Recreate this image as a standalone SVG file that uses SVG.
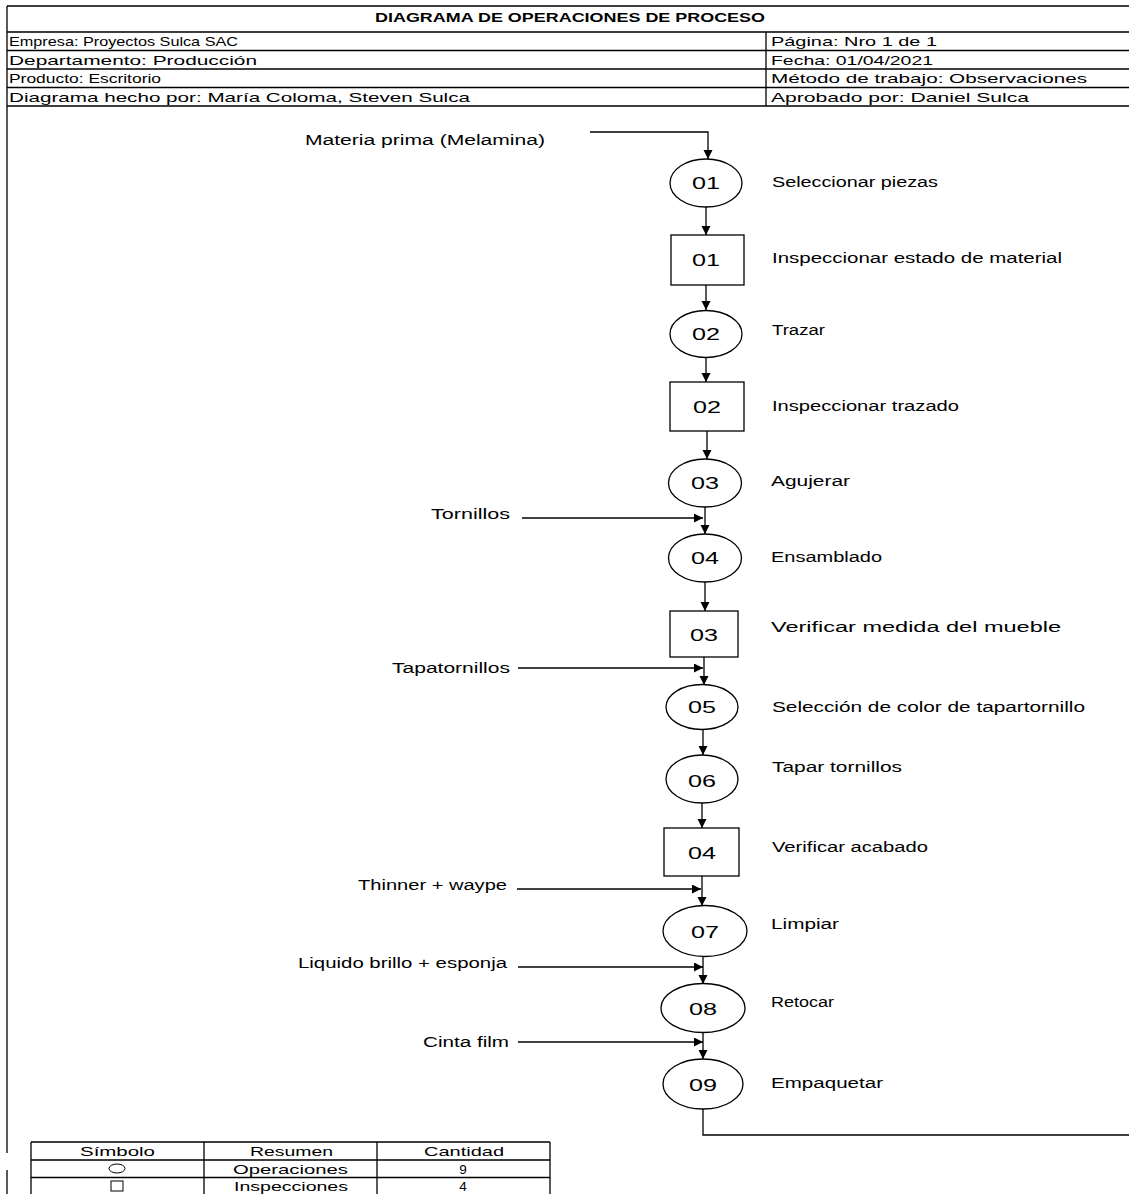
<svg xmlns="http://www.w3.org/2000/svg" width="1129" height="1194" viewBox="0 0 1129 1194">
<style>
  .hdr { font-family: "Liberation Sans", Arial, sans-serif; font-size: 13.5px; fill: #000; }
  .ttl { font-family: "Liberation Sans", Arial, sans-serif; font-size: 13px; font-weight: bold; fill: #000; }
  .lbl { font-family: "Liberation Sans", Arial, sans-serif; font-size: 14px; fill: #000; }
  .num { font-family: "Liberation Sans", Arial, sans-serif; font-size: 17px; fill: #000; }
  .tbl { font-family: "Liberation Sans", Arial, sans-serif; font-size: 13.5px; fill: #000; }
  .ln { stroke: #000; stroke-width: 1.3; fill: none; }
  .shape { stroke: #000; stroke-width: 1.3; fill: #fff; }
  .con { stroke: #000; stroke-width: 1.3; fill: none; }
</style>
<defs>
  <marker id="arr" markerUnits="userSpaceOnUse" markerWidth="11" markerHeight="11" refX="9" refY="4.5" orient="auto">
    <path d="M0,0 L9,4.5 L0,9 Z" fill="#000"/>
  </marker>
</defs>
<rect width="1129" height="1194" fill="#fff"/>

<g id="header">
  <path class="ln" d="M7,6 H1129 M7,32 H1129 M7,50.5 H1129 M7,69 H1129 M7,87.5 H1129 M7,106 H1129 M766,32 V106"/>
  <path class="ln" d="M7,6 V1153 M7,1170 V1194"/>
  <text class="ttl" x="375" y="22" textLength="390" lengthAdjust="spacingAndGlyphs">DIAGRAMA DE OPERACIONES DE PROCESO</text>
  <text class="hdr" x="9" y="46" textLength="229" lengthAdjust="spacingAndGlyphs">Empresa: Proyectos Sulca SAC</text>
  <text class="hdr" x="9" y="64.5" textLength="248" lengthAdjust="spacingAndGlyphs">Departamento: Producción</text>
  <text class="hdr" x="9" y="83" textLength="152" lengthAdjust="spacingAndGlyphs">Producto: Escritorio</text>
  <text class="hdr" x="9" y="101.5" textLength="461" lengthAdjust="spacingAndGlyphs">Diagrama hecho por: María Coloma, Steven Sulca</text>
  <text class="hdr" x="771" y="46" textLength="166" lengthAdjust="spacingAndGlyphs">Página: Nro 1 de 1</text>
  <text class="hdr" x="771" y="64.5" textLength="162" lengthAdjust="spacingAndGlyphs">Fecha: 01/04/2021</text>
  <text class="hdr" x="771" y="83" textLength="316" lengthAdjust="spacingAndGlyphs">Método de trabajo: Observaciones</text>
  <text class="hdr" x="771" y="101.5" textLength="258" lengthAdjust="spacingAndGlyphs">Aprobado por: Daniel Sulca</text>
</g>

<g id="connectors">
  <path class="con" d="M590,132 H708 V159" marker-end="url(#arr)"/>
  <path class="con" d="M706,207 V235" marker-end="url(#arr)"/>
  <path class="con" d="M706,285 V310" marker-end="url(#arr)"/>
  <path class="con" d="M706,357.5 V382" marker-end="url(#arr)"/>
  <path class="con" d="M707,431 V459" marker-end="url(#arr)"/>
  <path class="con" d="M705,507 V534" marker-end="url(#arr)"/>
  <path class="con" d="M522,518 H703" marker-end="url(#arr)"/>
  <path class="con" d="M705,582 V611" marker-end="url(#arr)"/>
  <path class="con" d="M704,657 V685" marker-end="url(#arr)"/>
  <path class="con" d="M518,668 H703" marker-end="url(#arr)"/>
  <path class="con" d="M703,730 V755" stroke-width="2.2" marker-end="url(#arr)"/>
  <path class="con" d="M702,803 V828" marker-end="url(#arr)"/>
  <path class="con" d="M702,876 V906" marker-end="url(#arr)"/>
  <path class="con" d="M517,889 H701" marker-end="url(#arr)"/>
  <path class="con" d="M703,957 V984" marker-end="url(#arr)"/>
  <path class="con" d="M518,967 H703" marker-end="url(#arr)"/>
  <path class="con" d="M703,1033 V1059" marker-end="url(#arr)"/>
  <path class="con" d="M518,1042 H703" marker-end="url(#arr)"/>
  <path class="con" d="M703,1109 V1135 H1129"/>
</g>

<g id="in-materia"><text class="lbl" x="305" y="145" textLength="240" lengthAdjust="spacingAndGlyphs">Materia prima (Melamina)</text></g>
<g id="in-tornillos"><text class="lbl" x="431" y="519" textLength="79" lengthAdjust="spacingAndGlyphs">Tornillos</text></g>
<g id="in-tapatornillos"><text class="lbl" x="392" y="673" textLength="118" lengthAdjust="spacingAndGlyphs">Tapatornillos</text></g>
<g id="in-thinner"><text class="lbl" x="358" y="890" textLength="149" lengthAdjust="spacingAndGlyphs">Thinner + waype</text></g>
<g id="in-liquido"><text class="lbl" x="298" y="968" textLength="209" lengthAdjust="spacingAndGlyphs">Liquido brillo + esponja</text></g>
<g id="in-cinta"><text class="lbl" x="423" y="1047" textLength="86" lengthAdjust="spacingAndGlyphs">Cinta film</text></g>

<g id="op01"><ellipse class="shape" cx="706" cy="183" rx="36" ry="24"/><text class="num" x="692" y="189" textLength="28" lengthAdjust="spacingAndGlyphs">01</text><text class="lbl" x="772" y="187" textLength="166" lengthAdjust="spacingAndGlyphs">Seleccionar piezas</text></g>
<g id="in01"><rect class="shape" x="671" y="235" width="73" height="50"/><text class="num" x="692" y="266" textLength="28" lengthAdjust="spacingAndGlyphs">01</text><text class="lbl" x="772" y="263" textLength="290" lengthAdjust="spacingAndGlyphs">Inspeccionar estado de material</text></g>
<g id="op02"><ellipse class="shape" cx="706" cy="334" rx="36" ry="23.5"/><text class="num" x="692" y="340" textLength="28" lengthAdjust="spacingAndGlyphs">02</text><text class="lbl" x="772" y="335" textLength="53" lengthAdjust="spacingAndGlyphs">Trazar</text></g>
<g id="in02"><rect class="shape" x="670" y="382" width="74" height="49"/><text class="num" x="693" y="413" textLength="28" lengthAdjust="spacingAndGlyphs">02</text><text class="lbl" x="772" y="411" textLength="187" lengthAdjust="spacingAndGlyphs">Inspeccionar trazado</text></g>
<g id="op03"><ellipse class="shape" cx="705" cy="483" rx="36.5" ry="24"/><text class="num" x="691" y="489" textLength="28" lengthAdjust="spacingAndGlyphs">03</text><text class="lbl" x="771" y="486" textLength="79" lengthAdjust="spacingAndGlyphs">Agujerar</text></g>
<g id="op04"><ellipse class="shape" cx="705" cy="558" rx="36.5" ry="24"/><text class="num" x="691" y="564" textLength="28" lengthAdjust="spacingAndGlyphs">04</text><text class="lbl" x="771" y="562" textLength="111" lengthAdjust="spacingAndGlyphs">Ensamblado</text></g>
<g id="in03"><rect class="shape" x="670" y="611" width="68" height="46"/><text class="num" x="690" y="641" textLength="28" lengthAdjust="spacingAndGlyphs">03</text><text class="lbl" x="771" y="632" textLength="290" lengthAdjust="spacingAndGlyphs">Verificar medida del mueble</text></g>
<g id="op05"><ellipse class="shape" cx="702" cy="707" rx="36" ry="22.5"/><text class="num" x="688" y="713" textLength="28" lengthAdjust="spacingAndGlyphs">05</text><text class="lbl" x="772" y="712" textLength="313" lengthAdjust="spacingAndGlyphs">Selección de color de tapartornillo</text></g>
<g id="op06"><ellipse class="shape" cx="702" cy="779" rx="36" ry="24"/><text class="num" x="688" y="787" textLength="28" lengthAdjust="spacingAndGlyphs">06</text><text class="lbl" x="772" y="772" textLength="130" lengthAdjust="spacingAndGlyphs">Tapar tornillos</text></g>
<g id="in04"><rect class="shape" x="664" y="828" width="75" height="48"/><text class="num" x="688" y="859" textLength="28" lengthAdjust="spacingAndGlyphs">04</text><text class="lbl" x="772" y="852" textLength="156" lengthAdjust="spacingAndGlyphs">Verificar acabado</text></g>
<g id="op07"><ellipse class="shape" cx="705" cy="931" rx="42" ry="25.5"/><text class="num" x="691" y="938" textLength="28" lengthAdjust="spacingAndGlyphs">07</text><text class="lbl" x="771" y="929" textLength="68" lengthAdjust="spacingAndGlyphs">Limpiar</text></g>
<g id="op08"><ellipse class="shape" cx="703" cy="1008" rx="42" ry="24.5"/><text class="num" x="689" y="1015" textLength="28" lengthAdjust="spacingAndGlyphs">08</text><text class="lbl" x="771" y="1007" textLength="63" lengthAdjust="spacingAndGlyphs">Retocar</text></g>
<g id="op09"><ellipse class="shape" cx="703" cy="1084" rx="40" ry="25"/><text class="num" x="689" y="1091" textLength="28" lengthAdjust="spacingAndGlyphs">09</text><text class="lbl" x="771" y="1088" textLength="112" lengthAdjust="spacingAndGlyphs">Empaquetar</text></g>

<g id="summary">
  <path class="ln" d="M31,1142 H550 M31,1160 H550 M31,1177.5 H550 M31,1142 V1194 M204,1142 V1194 M377,1142 V1194 M550,1142 V1194"/>
  <text class="tbl" x="80" y="1156" textLength="75" lengthAdjust="spacingAndGlyphs">Símbolo</text>
  <text class="tbl" x="250" y="1156" textLength="83" lengthAdjust="spacingAndGlyphs">Resumen</text>
  <text class="tbl" x="424" y="1156" textLength="80" lengthAdjust="spacingAndGlyphs">Cantidad</text>
  <ellipse cx="117" cy="1168.5" rx="8" ry="4.5" fill="none" stroke="#000" stroke-width="1"/>
  <text class="tbl" x="233" y="1174" textLength="115" lengthAdjust="spacingAndGlyphs">Operaciones</text>
  <text class="tbl" x="463" y="1174" text-anchor="middle">9</text>
  <rect x="111" y="1181" width="12" height="10" fill="none" stroke="#000" stroke-width="1"/>
  <text class="tbl" x="234" y="1190.5" font-size="12.5" textLength="114" lengthAdjust="spacingAndGlyphs">Inspecciones</text>
  <text class="tbl" x="463" y="1190.5" font-size="12.5" text-anchor="middle">4</text>
</g>
</svg>
